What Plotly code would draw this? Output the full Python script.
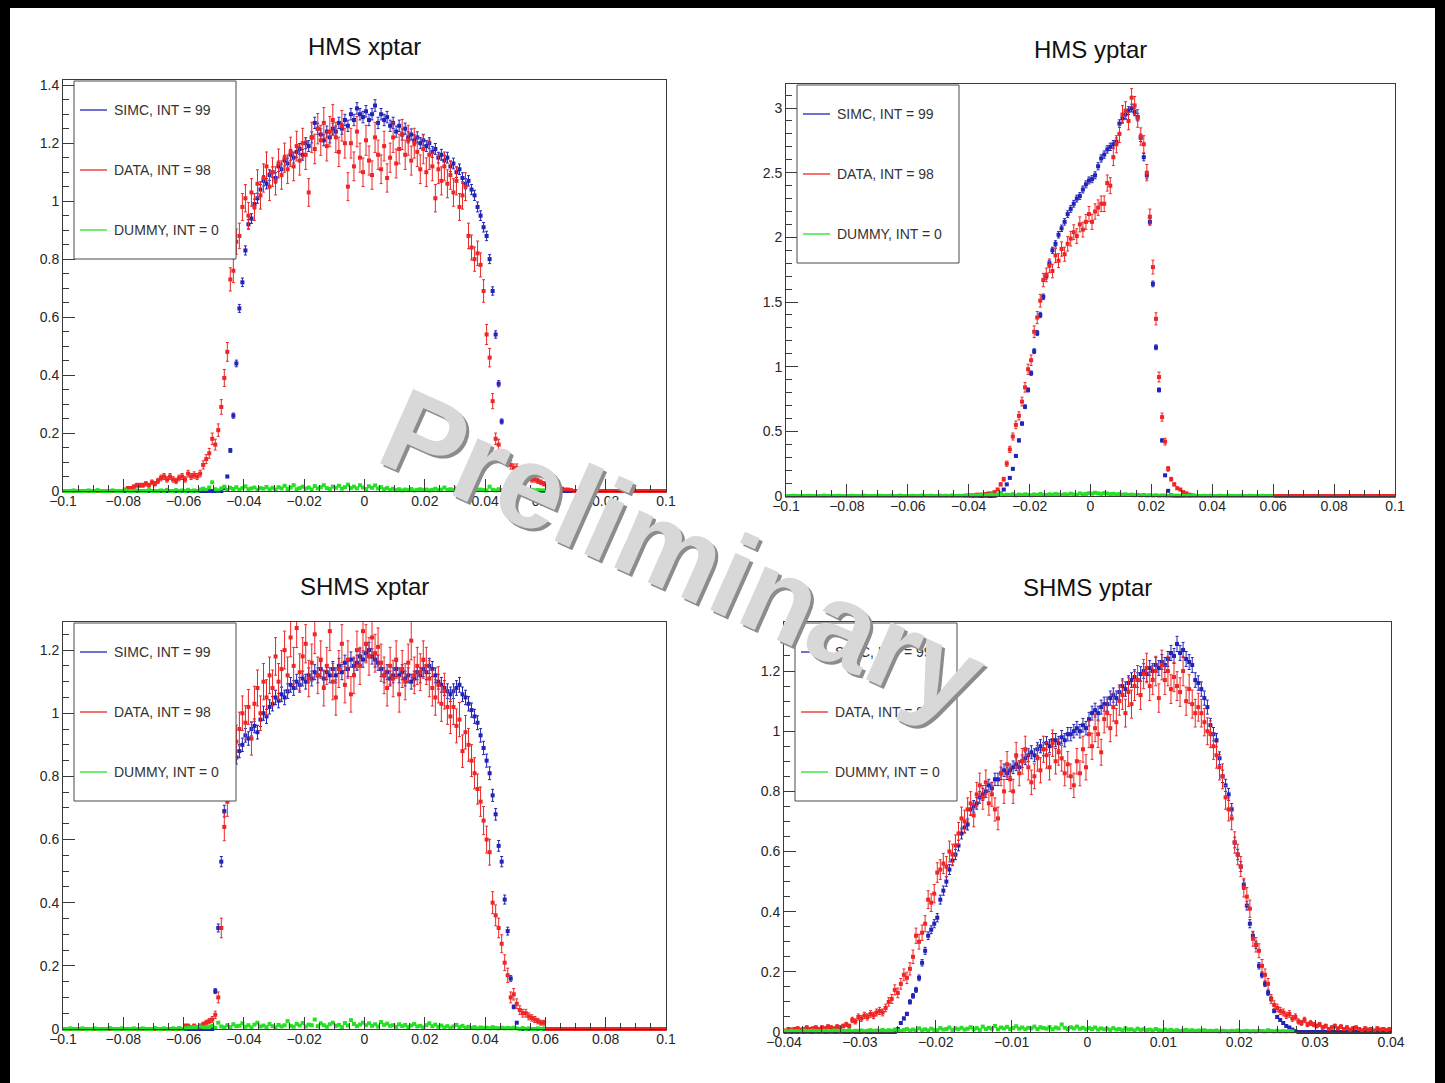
import numpy as np
import plotly.graph_objects as go

W, H = 1445, 1083
FONT = "Liberation Sans, Arial, Helvetica, sans-serif"

# ---------------------------------------------------------------------------
# Histogram binning (200 bins per histogram)
# ---------------------------------------------------------------------------
hms_xptar_bins = (-0.1, 0.1, 200)
hms_yptar_bins = (-0.1, 0.1, 200)
shms_xptar_bins = (-0.1, 0.1, 200)
shms_yptar_bins = (-0.04, 0.04, 200)

# ---------------------------------------------------------------------------
# HMS xptar
# ---------------------------------------------------------------------------
hms_xptar_simc = [
    0, 0, 0, 0, 0, 0, 0, 0, 0, 0,
    0, 0, 0, 0, 0, 0, 0, 0, 0, 0,
    0, 0, 0, 0, 0, 0, 0, 0, 0, 0,
    0, 0, 0, 0, 0, 0, 0, 0, 0, 0,
    0, 0, 0, 0, 0, 0, 0, 0, 0, 0,
    0, 0, 0,
    0.01, 0.05, 0.14, 0.26, 0.44, 0.63, 0.72, 0.83, 0.92, 0.94,
    0.99, 1.01, 1.04, 1.07, 1.06, 1.09, 1.10, 1.08, 1.12, 1.11,
    1.14, 1.13, 1.16, 1.15, 1.17, 1.18, 1.16, 1.20, 1.19, 1.22,
    1.27, 1.25, 1.23, 1.21, 1.24, 1.22, 1.25, 1.24, 1.27, 1.25,
    1.28, 1.26, 1.30, 1.28, 1.32, 1.30, 1.29, 1.31, 1.28, 1.30,
    1.33, 1.27, 1.30, 1.28, 1.29, 1.26, 1.27, 1.24, 1.26, 1.23,
    1.25, 1.22, 1.23, 1.21, 1.22, 1.20, 1.21, 1.19, 1.20, 1.17,
    1.18, 1.15, 1.16, 1.14, 1.15, 1.12, 1.13, 1.10, 1.11, 1.08,
    1.06, 1.07, 1.04, 1.02, 0.98, 0.95, 0.91, 0.88, 0.80, 0.69,
    0.54, 0.37, 0.24, 0.10, 0.02,
    0, 0, 0, 0, 0, 0, 0, 0, 0, 0,
    0, 0, 0, 0, 0, 0, 0, 0, 0, 0,
    0, 0, 0, 0, 0, 0, 0, 0, 0, 0,
    0, 0, 0, 0, 0, 0, 0, 0, 0, 0,
    0, 0, 0, 0, 0, 0, 0, 0, 0, 0,
    0, 0,
]
hms_xptar_data = [
    0, 0, 0, 0, 0, 0, 0, 0, 0, 0,
    0, 0, 0, 0, 0, 0, 0, 0, 0, 0,
    0.005, 0.01, 0.01, 0.015, 0.02, 0.02, 0.02, 0.025, 0.02, 0.03,
    0.025, 0.035, 0.045, 0.05, 0.04, 0.05, 0.04, 0.035, 0.045, 0.05,
    0.04, 0.06, 0.05, 0.055, 0.05, 0.06, 0.09, 0.11, 0.13, 0.18,
    0.16, 0.21, 0.29, 0.39, 0.48, 0.73, 0.76, 0.86, 0.88, 0.98,
    1.01, 0.95, 1.03, 0.98, 1.06, 1.02, 1.08, 1.12, 1.05, 1.10,
    1.07, 1.13, 1.09, 1.15, 1.11, 1.17, 1.12, 1.19, 1.14, 1.20,
    1.16, 1.03, 1.22, 1.18, 1.25, 1.21, 1.27, 1.19, 1.24, 1.28,
    1.22, 1.17, 1.26, 1.20, 1.05, 1.20, 1.12, 1.24, 1.15, 1.10,
    1.21, 1.14, 1.09, 1.22, 1.16, 1.11, 1.19, 1.08, 1.15, 1.22,
    1.13, 1.18, 1.23, 1.16, 1.21, 1.14, 1.20, 1.17, 1.11, 1.18,
    1.10, 1.16, 1.12, 1.01, 1.11, 1.07, 1.12, 1.06, 1.09, 1.03,
    1.07, 0.98, 1.02, 1.05, 0.88, 0.84, 0.80, 0.82, 0.78, 0.69,
    0.54, 0.46, 0.31, 0.18, 0.16, 0.12, 0.11, 0.10, 0.09, 0.08,
    0.08, 0.07, 0.06, 0.06, 0.05, 0.04, 0.04, 0.035, 0.03, 0.025,
    0.02, 0.02, 0.015, 0.01, 0.01, 0.008, 0.005, 0.005, 0.003,
    0, 0, 0, 0, 0, 0, 0, 0, 0, 0,
    0, 0, 0, 0, 0, 0, 0, 0, 0, 0,
    0, 0, 0, 0, 0, 0, 0, 0, 0, 0,
    0,
]
hms_xptar_dummy = [
    0, 0, 0, 0.002, 0, 0, 0, 0, 0.002, 0,
    0, 0.003, 0, 0, 0, 0, 0.002, 0, 0, 0,
    0.003, 0, 0, 0, 0.002, 0, 0, 0, 0.003, 0,
    0, 0, 0.002, 0, 0.004, 0, 0, 0.003, 0, 0.002,
    0, 0.004, 0, 0.002, 0, 0.005,
    0.008, 0.004, 0.012, 0.03, 0.006, 0.002, 0.009, 0.015, 0.004, 0.011,
    0.007, 0.013, 0.005, 0.01, 0.016, 0.006, 0.009, 0.012, 0.004, 0.01,
    0.008, 0.014, 0.006, 0.011, 0.005, 0.013, 0.009, 0.018, 0.007, 0.012,
    0.02, 0.006, 0.01, 0.015, 0.008, 0.012, 0.005, 0.017, 0.009, 0.013,
    0.02, 0.01, 0.007, 0.015, 0.011, 0.018, 0.008, 0.013, 0.022, 0.01,
    0.015, 0.009, 0.02, 0.012, 0.007, 0.016, 0.011, 0.019, 0.009, 0.013,
    0.006, 0.01, 0.004, 0.008, 0.003, 0.006, 0.002, 0.005, 0.003, 0.007,
    0.002, 0.004, 0.006, 0.003, 0.005, 0.002, 0.004, 0.008, 0.003, 0.005,
    0.012, 0.004, 0.006, 0.003, 0.009, 0.005, 0.002, 0.004, 0.003, 0.006,
    0.002, 0.004, 0.005, 0.003,
    0.002, 0.015, 0.004, 0.002, 0.006, 0.003, 0.002, 0.004, 0.002, 0.003,
    0.002, 0.005, 0.002, 0.003, 0.002, 0.004, 0.002, 0.003, 0.002, 0.002,
]

# ---------------------------------------------------------------------------
# HMS yptar
# ---------------------------------------------------------------------------
hms_yptar_simc = [
    0, 0, 0, 0, 0, 0, 0, 0, 0, 0,
    0, 0, 0, 0, 0, 0, 0, 0, 0, 0,
    0, 0, 0, 0, 0, 0, 0, 0, 0, 0,
    0, 0, 0, 0, 0, 0, 0, 0, 0, 0,
    0, 0, 0, 0, 0, 0, 0, 0, 0, 0,
    0, 0, 0, 0, 0, 0, 0, 0, 0, 0,
    0, 0, 0, 0, 0, 0, 0, 0, 0,
    0.01, 0.02, 0.05, 0.09, 0.14, 0.21, 0.31, 0.43, 0.56, 0.69,
    0.82, 0.95, 1.12, 1.26, 1.40, 1.54, 1.70, 1.80, 1.90, 1.95,
    2.02, 2.07, 2.12, 2.18, 2.22, 2.26, 2.30, 2.32, 2.37, 2.41,
    2.44, 2.45, 2.48, 2.55, 2.61, 2.64, 2.68, 2.70, 2.72, 2.74,
    2.88, 2.92, 2.95, 2.98, 3.00, 2.97, 2.93, 2.77, 2.62, 2.48,
    2.12, 1.64, 1.15, 0.82, 0.43, 0.16, 0.04, 0.005,
    0, 0, 0, 0, 0, 0, 0, 0, 0, 0,
    0, 0, 0, 0, 0, 0, 0, 0, 0, 0,
    0, 0, 0, 0, 0, 0, 0, 0, 0, 0,
    0, 0, 0, 0, 0, 0, 0, 0, 0, 0,
    0, 0, 0, 0, 0, 0, 0, 0, 0, 0,
    0, 0, 0, 0, 0, 0, 0, 0, 0, 0,
    0, 0, 0, 0, 0, 0, 0, 0, 0, 0,
    0, 0, 0,
]
hms_yptar_data = [
    0, 0, 0, 0, 0, 0, 0, 0, 0, 0,
    0, 0, 0, 0, 0, 0, 0, 0, 0, 0,
    0, 0, 0, 0, 0, 0, 0, 0, 0, 0,
    0, 0, 0, 0, 0, 0, 0, 0, 0, 0,
    0, 0, 0, 0, 0, 0, 0, 0, 0, 0,
    0, 0, 0, 0, 0, 0, 0, 0, 0, 0,
    0.005, 0.005, 0.01, 0.01, 0.01, 0.015, 0.02, 0.02, 0.03, 0.05,
    0.09, 0.13, 0.25, 0.36, 0.46, 0.55, 0.62, 0.73, 0.84, 0.98,
    1.05, 1.27, 1.38, 1.51, 1.67, 1.71, 1.78, 1.74, 1.86, 1.82,
    1.91, 1.87, 1.95, 1.99, 2.04, 2.01, 2.10, 2.06, 2.12, 2.18,
    2.12, 2.20, 2.23, 2.26, 2.26, 2.42, 2.40, 2.62, 2.72, 2.80,
    2.95, 2.98, 2.90, 3.08, 3.02, 2.92, 2.78, 2.72, 2.50, 2.16,
    1.77, 1.37, 0.92, 0.61, 0.42, 0.21, 0.13, 0.09, 0.06, 0.05,
    0.03, 0.02, 0.01, 0.005,
    0, 0, 0, 0, 0, 0, 0, 0, 0, 0,
    0, 0, 0, 0, 0, 0, 0, 0, 0, 0,
    0, 0, 0, 0, 0, 0, 0, 0, 0, 0,
    0, 0, 0, 0, 0, 0, 0, 0, 0, 0,
    0, 0, 0, 0, 0, 0, 0, 0, 0, 0,
    0, 0, 0, 0, 0, 0, 0, 0, 0, 0,
    0, 0, 0, 0, 0, 0,
]
hms_yptar_dummy = [
    0, 0, 0.002, 0, 0, 0, 0, 0.002, 0, 0,
    0, 0, 0.003, 0, 0, 0, 0, 0.002, 0, 0,
    0, 0.002, 0, 0, 0, 0.003, 0, 0, 0, 0,
    0.002, 0, 0, 0, 0.002, 0, 0, 0.003, 0, 0,
    0, 0.002, 0, 0, 0.003, 0, 0, 0.002, 0, 0,
    0.003, 0, 0.002, 0, 0.004, 0, 0.002, 0, 0.003, 0.005,
    0.004, 0.008, 0.003, 0.006, 0.01, 0.004, 0.007, 0.012, 0.005, 0.009,
    0.02, 0.006, 0.01, 0.008, 0.014, 0.005, 0.011, 0.007, 0.013, 0.009,
    0.006, 0.012, 0.008, 0.015, 0.01, 0.007, 0.013, 0.009, 0.016, 0.011,
    0.008, 0.014, 0.01, 0.018, 0.012, 0.009, 0.02, 0.013, 0.016, 0.022,
    0.018, 0.025, 0.02, 0.016, 0.022, 0.019, 0.014, 0.017, 0.012, 0.015,
    0.01, 0.013, 0.008, 0.011, 0.006, 0.009, 0.005, 0.008, 0.004, 0.006,
    0.003, 0.005, 0.002, 0.004, 0.003, 0.002, 0.004, 0.002, 0.003, 0.002,
    0.002, 0, 0.003, 0, 0.002, 0, 0, 0.002, 0, 0.003,
    0, 0, 0.002, 0, 0, 0.002, 0, 0, 0, 0.002,
    0, 0, 0.002, 0, 0, 0, 0.002, 0, 0, 0,
]

# ---------------------------------------------------------------------------
# SHMS xptar
# ---------------------------------------------------------------------------
shms_xptar_simc = [
    0, 0, 0, 0, 0, 0, 0, 0, 0, 0,
    0, 0, 0, 0, 0, 0, 0, 0, 0, 0,
    0, 0, 0, 0, 0, 0, 0, 0, 0, 0,
    0, 0, 0, 0, 0, 0, 0, 0, 0, 0,
    0, 0, 0, 0, 0, 0, 0, 0, 0, 0,
    0.12, 0.32, 0.53, 0.69, 0.76, 0.80, 0.84, 0.86, 0.88, 0.90,
    0.93, 0.92, 0.95, 0.96, 0.94, 0.98, 1.00, 0.99, 1.02, 1.03,
    1.05, 1.04, 1.06, 1.05, 1.07, 1.09, 1.08, 1.10, 1.09, 1.11,
    1.10, 1.12, 1.11, 1.13, 1.12, 1.14, 1.11, 1.13, 1.12, 1.14,
    1.12, 1.15, 1.13, 1.16, 1.14, 1.17, 1.15, 1.16, 1.18, 1.17,
    1.19, 1.20, 1.18, 1.17, 1.16, 1.14, 1.12, 1.13, 1.11, 1.12,
    1.14, 1.12, 1.13, 1.11, 1.12, 1.10, 1.11, 1.13, 1.12, 1.14,
    1.13, 1.15, 1.14, 1.12, 1.10, 1.09, 1.08, 1.07, 1.06, 1.07,
    1.08, 1.09, 1.06, 1.05, 1.03, 1.01, 0.99, 0.97, 0.93, 0.89,
    0.85, 0.81, 0.74, 0.68, 0.58, 0.53, 0.41, 0.31, 0.16, 0.07, 0.02,
    0, 0, 0, 0, 0, 0, 0, 0, 0, 0,
    0, 0, 0, 0, 0, 0, 0, 0, 0, 0,
    0, 0, 0, 0, 0, 0, 0, 0, 0, 0,
    0, 0, 0, 0, 0, 0, 0, 0, 0, 0,
    0, 0, 0, 0, 0, 0, 0, 0, 0,
]
shms_xptar_data = [
    0, 0, 0, 0, 0, 0, 0, 0, 0, 0,
    0, 0, 0, 0, 0, 0, 0, 0, 0, 0,
    0, 0, 0, 0, 0, 0, 0, 0, 0, 0,
    0, 0, 0, 0, 0, 0, 0, 0, 0, 0,
    0.01, 0.01, 0.005, 0.01, 0.005, 0.01, 0.015, 0.02, 0.025, 0.03,
    0.045, 0.10, 0.32, 0.64, 0.72, 0.80, 0.86, 0.91, 0.95, 1.00,
    0.97, 1.02, 0.92, 1.03, 1.08, 1.00, 1.10, 1.05, 1.12, 1.08,
    1.18, 1.10, 1.14, 1.20, 1.12, 1.24, 1.15, 1.27, 1.13, 1.18,
    1.22, 1.11, 1.16, 1.25, 1.12, 1.17, 1.08, 1.15, 1.26, 1.10,
    1.05, 1.14, 1.22, 1.09, 1.17, 1.06, 1.12, 1.20, 1.15, 1.26,
    1.22, 1.18, 1.24, 1.19, 1.21, 1.16, 1.12, 1.08, 1.15, 1.11,
    1.17, 1.06, 1.14, 1.10, 1.16, 1.23, 1.12, 1.15, 1.13, 1.17,
    1.15, 1.11, 1.08, 1.05, 1.09, 1.03, 1.07, 1.02, 0.99, 1.02,
    0.96, 0.98, 0.88, 0.94, 0.90, 0.85, 0.81, 0.76, 0.72, 0.66,
    0.60, 0.56, 0.40, 0.36, 0.32, 0.27, 0.21, 0.17, 0.10, 0.11,
    0.08, 0.06, 0.05, 0.05, 0.04, 0.035, 0.03, 0.025, 0.02, 0.02,
    0, 0, 0, 0, 0, 0, 0, 0, 0, 0,
    0, 0, 0, 0, 0, 0, 0, 0, 0, 0,
    0, 0, 0, 0, 0, 0, 0, 0, 0, 0,
    0, 0, 0, 0, 0, 0, 0, 0, 0, 0,
]
shms_xptar_dummy = [
    0, 0, 0.002, 0, 0, 0, 0.002, 0, 0, 0,
    0.002, 0, 0, 0, 0, 0.003, 0, 0, 0, 0.002,
    0, 0, 0, 0.002, 0, 0, 0.002, 0, 0, 0,
    0.003, 0, 0, 0.002, 0, 0, 0.002, 0, 0.003, 0,
    0.002, 0.004, 0.003, 0.006, 0.004, 0.008, 0.005, 0.003, 0.006, 0.01,
    0.004, 0.02, 0.008, 0.005, 0.012, 0.006, 0.015, 0.009, 0.01, 0.018,
    0.007, 0.012, 0.005, 0.014, 0.02, 0.008, 0.011, 0.006, 0.016, 0.009,
    0.005, 0.013, 0.008, 0.012, 0.025, 0.01, 0.007, 0.016, 0.011, 0.019,
    0.008, 0.014, 0.012, 0.03, 0.009, 0.018, 0.012, 0.007, 0.015, 0.02,
    0.01, 0.013, 0.006, 0.019, 0.011, 0.028, 0.016, 0.009, 0.014, 0.02,
    0.012, 0.018, 0.01, 0.015, 0.008, 0.022, 0.013, 0.017, 0.01, 0.012,
    0.007, 0.015, 0.009, 0.013, 0.006, 0.011, 0.016, 0.008, 0.01, 0.005,
    0.012, 0.018, 0.009, 0.014, 0.007, 0.011, 0.005, 0.009, 0.004, 0.008,
    0.013, 0.006, 0.01, 0.004, 0.007, 0.003, 0.006, 0.002, 0.005, 0.003,
    0.004, 0.002, 0.006, 0.003, 0.002, 0.004, 0.002, 0.003, 0.002, 0.004,
    0.002, 0, 0.003, 0, 0.002, 0, 0, 0.002, 0, 0.002,
]

# ---------------------------------------------------------------------------
# SHMS yptar
# ---------------------------------------------------------------------------
shms_yptar_simc = [
    0, 0, 0, 0, 0, 0, 0, 0, 0, 0,
    0, 0, 0, 0, 0, 0, 0, 0, 0, 0,
    0, 0, 0, 0, 0, 0, 0, 0, 0, 0,
    0, 0, 0, 0, 0, 0, 0,
    0.01, 0.03, 0.045, 0.06, 0.10, 0.12, 0.14, 0.18, 0.23, 0.27,
    0.32, 0.34, 0.36, 0.38, 0.44, 0.47, 0.50, 0.54, 0.57, 0.59,
    0.62, 0.66, 0.68, 0.69, 0.74, 0.75, 0.76, 0.78, 0.79, 0.80,
    0.82, 0.81, 0.84, 0.84, 0.86, 0.87, 0.86, 0.87, 0.88, 0.89,
    0.88, 0.90, 0.91, 0.92, 0.93, 0.92, 0.94, 0.95, 0.94, 0.96,
    0.95, 0.97, 0.97, 0.96, 0.98, 0.97, 0.99, 0.99, 1.00, 1.01,
    1.00, 1.02, 1.01, 1.04, 1.06, 1.07, 1.06, 1.08, 1.09, 1.09,
    1.11, 1.12, 1.11, 1.13, 1.15, 1.14, 1.16, 1.17, 1.18, 1.17,
    1.19, 1.20, 1.19, 1.21, 1.20, 1.22, 1.21, 1.23, 1.22, 1.24,
    1.26, 1.25, 1.29, 1.26, 1.27, 1.24, 1.23, 1.22, 1.17, 1.16,
    1.14, 1.11, 1.08, 1.02, 0.99, 0.97, 0.91, 0.85, 0.82, 0.79,
    0.74, 0.63, 0.59, 0.55, 0.49, 0.42, 0.36, 0.32, 0.29, 0.22,
    0.19, 0.16, 0.13, 0.11, 0.07, 0.05, 0.04, 0.03, 0.02, 0.015,
    0.008, 0.003,
    0, 0, 0, 0, 0, 0, 0, 0, 0, 0,
    0, 0, 0, 0, 0, 0, 0, 0, 0, 0,
    0, 0, 0, 0, 0, 0, 0, 0, 0, 0,
    0,
]
shms_yptar_data = [
    0.005, 0.01, 0.008, 0.01, 0.012, 0.008, 0.01, 0.015, 0.01, 0.012,
    0.015, 0.01, 0.015, 0.012, 0.018, 0.015, 0.012, 0.018, 0.015, 0.02,
    0.025, 0.02, 0.04, 0.035, 0.05, 0.045, 0.055, 0.05, 0.06, 0.055,
    0.065, 0.07, 0.065, 0.08, 0.10, 0.11, 0.14, 0.13, 0.16, 0.19,
    0.18, 0.21, 0.25, 0.32, 0.30, 0.33, 0.36, 0.44, 0.43, 0.46,
    0.53, 0.54, 0.56, 0.55, 0.60, 0.59, 0.62, 0.66, 0.71, 0.70,
    0.74, 0.76, 0.72, 0.79, 0.82, 0.78, 0.83, 0.76, 0.79, 0.74,
    0.71, 0.86, 0.80, 0.89, 0.84, 0.80, 0.92, 0.86, 0.90, 0.94,
    0.88, 0.83, 0.85, 0.91, 0.87, 0.94, 0.92, 0.88, 0.96, 0.90,
    0.93, 0.91, 0.86, 0.89, 0.85, 0.82, 0.90, 0.86, 0.94, 0.88,
    0.99, 0.95, 1.01, 0.99, 0.93, 1.04, 1.06, 1.01, 1.08, 1.03,
    1.10, 1.12, 1.06, 1.13, 1.09, 1.15, 1.17, 1.12, 1.19, 1.21,
    1.15, 1.17, 1.20, 1.11, 1.22, 1.17, 1.20, 1.14, 1.18, 1.15,
    1.13, 1.20, 1.10, 1.14, 1.09, 1.06, 1.08, 1.06, 1.03, 1.00,
    0.99, 0.95, 0.92, 0.88, 0.85, 0.78, 0.74, 0.71, 0.63, 0.59,
    0.55, 0.48, 0.45, 0.41, 0.31, 0.29, 0.27, 0.22, 0.19, 0.16,
    0.11, 0.09, 0.08, 0.07, 0.065, 0.055, 0.06, 0.045, 0.05, 0.035,
    0.03, 0.04, 0.025, 0.03, 0.025, 0.02, 0.025, 0.015, 0.02, 0.01,
    0.015, 0.02, 0.012, 0.018, 0.01, 0.015, 0.008, 0.012, 0.015, 0.01,
    0.006, 0.012, 0.008, 0.01, 0.005, 0.012, 0.008, 0.01, 0.006, 0.01,
]
shms_yptar_dummy = [
    0.003, 0.002, 0.004, 0.002, 0.003, 0.002, 0.005, 0.002, 0.003, 0.004,
    0.002, 0.003, 0.002, 0.004, 0.003, 0.002, 0.005, 0.003, 0.002, 0.004,
    0.003, 0.006, 0.002, 0.004, 0.003, 0.005, 0.002, 0.004, 0.006, 0.003,
    0.005, 0.004, 0.007, 0.003, 0.006, 0.004, 0.008, 0.005, 0.003, 0.007,
    0.01, 0.005, 0.008, 0.004, 0.012, 0.006, 0.009, 0.005, 0.011, 0.007,
    0.006, 0.013, 0.008, 0.01, 0.015, 0.007, 0.012, 0.009, 0.014, 0.008,
    0.011, 0.016, 0.009, 0.013, 0.007, 0.018, 0.01, 0.014, 0.011, 0.02,
    0.009, 0.015, 0.012, 0.017, 0.01, 0.013, 0.019, 0.011, 0.015, 0.009,
    0.014, 0.012, 0.018, 0.01, 0.016, 0.013, 0.011, 0.017, 0.009, 0.015,
    0.012, 0.025, 0.014, 0.01, 0.016, 0.012, 0.018, 0.011, 0.014, 0.009,
    0.013, 0.01, 0.015, 0.008, 0.012, 0.009, 0.011, 0.007, 0.013, 0.008,
    0.01, 0.006, 0.012, 0.008, 0.009, 0.005, 0.011, 0.007, 0.009, 0.006,
    0.008, 0.005, 0.01, 0.006, 0.004, 0.008, 0.005, 0.007, 0.004, 0.006,
    0.003, 0.005, 0.007, 0.004, 0.006, 0.003, 0.005, 0.004, 0.006, 0.003,
    0.004, 0.003, 0.005, 0.002, 0.004, 0.003, 0.002, 0.004, 0.003, 0.005,
    0.002, 0.003, 0.004, 0.002, 0.003, 0.002, 0.004, 0.003, 0.002, 0.006,
    0.003, 0.002, 0.004, 0.002, 0.003, 0.002, 0.003, 0.002,
]

# Per-event weights of the normalised histograms (error = sqrt(w * content))
event_weights = {
    "HMS xptar": (0.0003, 0.0022, 0.0001),
    "HMS yptar": (0.0003, 0.0016, 0.0001),
    "SHMS xptar": (0.0005, 0.0030, 0.0001),
    "SHMS yptar": (0.0005, 0.0020, 0.0001),
}

series_names = ["SIMC, INT = 99", "DATA, INT = 98", "DUMMY, INT = 0"]
series_colors = ["#2323b8", "#ee2626", "#26e026"]

# panel layout in page pixels: plot frame (left, top, right, bottom)
panels = [
    dict(title="HMS xptar", bins=hms_xptar_bins,
         series=[hms_xptar_simc, hms_xptar_data, hms_xptar_dummy],
         frame=(63, 80, 666, 491), yrange=1.418, ydtick=0.2, yminor=0.05,
         xdtick=0.02, xminor=0.005, title_y=46),
    dict(title="HMS yptar", bins=hms_yptar_bins,
         series=[hms_yptar_simc, hms_yptar_data, hms_yptar_dummy],
         frame=(786, 84, 1395, 496), yrange=3.186, ydtick=0.5, yminor=0.1,
         xdtick=0.02, xminor=0.005, title_y=49),
    dict(title="SHMS xptar", bins=shms_xptar_bins,
         series=[shms_xptar_simc, shms_xptar_data, shms_xptar_dummy],
         frame=(63, 622, 666, 1029), yrange=1.289, ydtick=0.2, yminor=0.05,
         xdtick=0.02, xminor=0.005, title_y=586),
    dict(title="SHMS yptar", bins=shms_yptar_bins,
         series=[shms_yptar_simc, shms_yptar_data, shms_yptar_dummy],
         frame=(784, 622, 1391, 1032), yrange=1.363, ydtick=0.2, yminor=0.05,
         xdtick=0.01, xminor=0.0025, title_y=587),
]


def px(x):
    return x / W


def py(y):
    return 1 - y / H


def bin_centers(lo, hi, n):
    width = (hi - lo) / n
    return lo + width * (np.arange(n) + 0.5)


fig = go.Figure()
shapes = []
annotations = []

axis_common = dict(
    showline=True, mirror=True, linecolor="#3a3a3a", linewidth=1,
    ticks="inside", ticklen=12, tickwidth=1, tickcolor="#3a3a3a",
    showgrid=False, zeroline=False, automargin=False,
    tickfont=dict(family=FONT, size=14, color="#262626"),
)

for k, p in enumerate(panels, start=1):
    lo, hi, n = p["bins"]
    centers = bin_centers(lo, hi, n)
    weights = event_weights[p["title"]]
    xa = "x" if k == 1 else f"x{k}"
    ya = "y" if k == 1 else f"y{k}"

    for vals, color, w in zip(p["series"], series_colors, weights):
        y = np.asarray(vals, dtype=float)
        err = np.sqrt(w * y)
        fig.add_trace(go.Scatter(
            x=centers[: len(y)], y=y, mode="markers",
            marker=dict(symbol="square", size=4, color=color, line=dict(width=0)),
            error_y=dict(type="data", array=err, visible=True, color=color,
                         thickness=1, width=1.5),
            cliponaxis=False, showlegend=False, hoverinfo="skip",
            xaxis=xa, yaxis=ya,
        ))

    l, t, r, b = p["frame"]
    xkey = "xaxis" if k == 1 else f"xaxis{k}"
    ykey = "yaxis" if k == 1 else f"yaxis{k}"
    fig.layout[xkey] = dict(
        axis_common, domain=[px(l), px(r)], range=[lo, hi], anchor=ya,
        tick0=0, dtick=p["xdtick"], ticklabelstandoff=-3,
        minor=dict(ticks="inside", ticklen=6, dtick=p["xminor"], tick0=0,
                   tickcolor="#3a3a3a"),
    )
    fig.layout[ykey] = dict(
        axis_common, domain=[py(b), py(t)], range=[0, p["yrange"]], anchor=xa,
        tick0=0, dtick=p["ydtick"],
        minor=dict(ticks="inside", ticklen=6, dtick=p["yminor"], tick0=0,
                   tickcolor="#3a3a3a"),
    )

    # panel title
    annotations.append(dict(
        text=p["title"], x=px((l + r) / 2), y=py(p["title_y"]),
        xref="paper", yref="paper", xanchor="center", yanchor="middle",
        showarrow=False, font=dict(family=FONT, size=24, color="#111111"),
    ))

    # legend box (opaque, hides the data underneath)
    lx0, lx1 = l + 11, l + 173
    ly0, ly1 = t + 1, t + 179
    shapes.append(dict(
        type="rect", xref="paper", yref="paper", layer="above",
        x0=px(lx0), x1=px(lx1), y0=py(ly1), y1=py(ly0),
        fillcolor="white", line=dict(color="#4a4a4a", width=1),
    ))
    for j, (name, color) in enumerate(zip(series_names, series_colors)):
        ey = t + 30 + 60 * j
        shapes.append(dict(
            type="line", xref="paper", yref="paper", layer="above",
            x0=px(lx0 + 6), x1=px(lx0 + 33), y0=py(ey), y1=py(ey),
            line=dict(color=color, width=1.3),
        ))
        annotations.append(dict(
            text=name, x=px(lx0 + 38), y=py(ey), xref="paper", yref="paper",
            xanchor="left", yanchor="middle", showarrow=False,
            font=dict(family=FONT, size=14, color="#333333"),
        ))

# dark page border
for x0, x1, y0, y1 in [(0, 10, 0, H), (1435, W, 0, H), (0, W, 0, 8)]:
    shapes.append(dict(
        type="rect", xref="paper", yref="paper", layer="above",
        x0=px(x0), x1=px(x1), y0=py(y1), y1=py(y0),
        fillcolor="black", line=dict(width=0),
    ))

# "Preliminary" stamp across the page (shadow first, then face)
stamp_x, stamp_y = 683, 553
annotations.append(dict(
    text="Preliminary", x=px(stamp_x), y=py(stamp_y), xref="paper", yref="paper",
    xanchor="center", yanchor="middle", showarrow=False, textangle=24,
    xshift=3, yshift=-3,
    font=dict(family=FONT, size=118, color="#8c8c8c", weight="bold"),
))
annotations.append(dict(
    text="Preliminary", x=px(stamp_x), y=py(stamp_y), xref="paper", yref="paper",
    xanchor="center", yanchor="middle", showarrow=False, textangle=24,
    font=dict(family=FONT, size=118, color="#d8d8d8", weight="bold"),
))

fig.update_layout(
    width=W, height=H, autosize=False,
    margin=dict(l=0, r=0, t=0, b=0, pad=0, autoexpand=False),
    paper_bgcolor="white", plot_bgcolor="white",
    shapes=shapes, annotations=annotations,
    showlegend=False,
)

fig.write_html("out.html")
